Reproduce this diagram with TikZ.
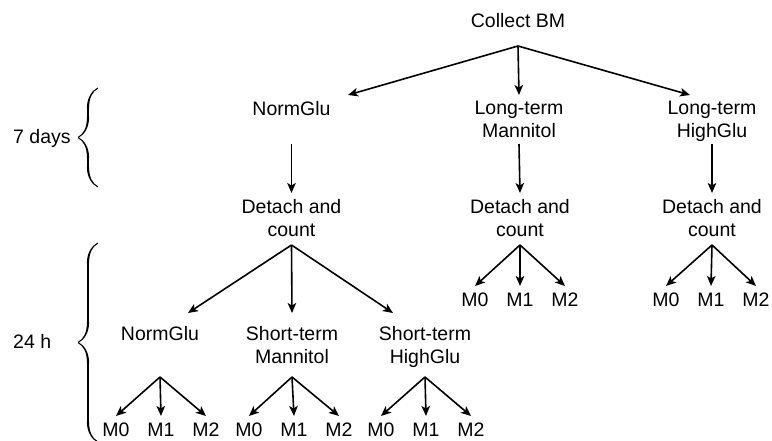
\documentclass[tikz,border=0pt]{standalone}
\usepackage{fontspec}
\setmainfont{Liberation Sans}
\usetikzlibrary{arrows.meta,calc,decorations.pathreplacing,calligraphy}
\begin{document}
\begin{tikzpicture}[x=1pt,y=-1pt,
  lbl/.style={font=\fontsize{19.5}{23}\selectfont,align=center,anchor=north,inner sep=0pt},
  arr/.style={line width=1.6pt,-{Stealth[length=10pt,width=8.5pt,inset=2.5pt]}},
  brc/.style={line width=2.2pt,decorate,decoration={calligraphic brace,amplitude=20pt}}]
\useasboundingbox (0,0) rectangle (772,441);
\node[lbl] (cbm) at (518,13) {Collect BM};
\node[lbl] (ng1) at (291.5,101) {NormGlu};
\node[lbl] (ltm) at (519,101) {Long-term\\Mannitol};
\node[lbl] (lth) at (712,101) {Long-term\\HighGlu};
\node[lbl] (dc1) at (291.5,199) {Detach and\\count};
\node[lbl] (dc2) at (520,199) {Detach and\\count};
\node[lbl] (dc3) at (712,199) {Detach and\\count};
\node[lbl] (ng2) at (160,326) {NormGlu};
\node[lbl] (stm) at (292,326) {Short-term\\Mannitol};
\node[lbl] (sth) at (425,326) {Short-term\\HighGlu};
\node[lbl,anchor=north west] (d7) at (13,129) {7 days};
\node[lbl,anchor=north west] (h24) at (13,334) {24 h};
\foreach \g/\x/\y in {dc2/520/293,dc3/711/293,ng2/161/423,stm/294/423,sth/426/423}
  \foreach \i/\dx in {0/-45,1/0,2/45}
    \node[lbl] (\g-m\i) at (\x+\dx,\y) {M\i};
\draw[arr] ($(cbm.north)+(0,33)$) -- ($(ng1.north)+(56.5,-6)$);
\draw[arr] ($(cbm.north)+(0,33)$) -- ($(ltm.north)+(0,-6)$);
\draw[arr] ($(cbm.north)+(0,33)$) -- ($(lth.north)+(-22,-6)$);
\draw[arr] ($(ng1.north)+(0,43)$) -- ($(dc1.north)+(0,-6)$);
\draw[arr] ($(ltm.north)+(0,43)$) -- ($(dc2.north)+(0,-6)$);
\draw[arr] ($(lth.north)+(0,43)$) -- ($(dc3.north)+(0,-6)$);
\draw[arr] ($(dc1.north)+(0,46)$) -- ($(ng2.north)+(28,-13)$);
\draw[arr] ($(dc1.north)+(0,46)$) -- ($(stm.north)+(0,-13)$);
\draw[arr] ($(dc1.north)+(0,46)$) -- ($(sth.north)+(-32,-13)$);
\foreach \g/\o in {dc2/46,dc3/46,ng2/51,stm/51,sth/51}
  \foreach \i in {0,1,2}
    \draw[arr] ($(\g.north)+(0,\o)$) -- ($(\g-m\i.north)+(0,-7)$);
\draw[brc] (98,187) -- (98,88);
\draw[brc] (98,442) -- (98,243);
\end{tikzpicture}
\end{document}
